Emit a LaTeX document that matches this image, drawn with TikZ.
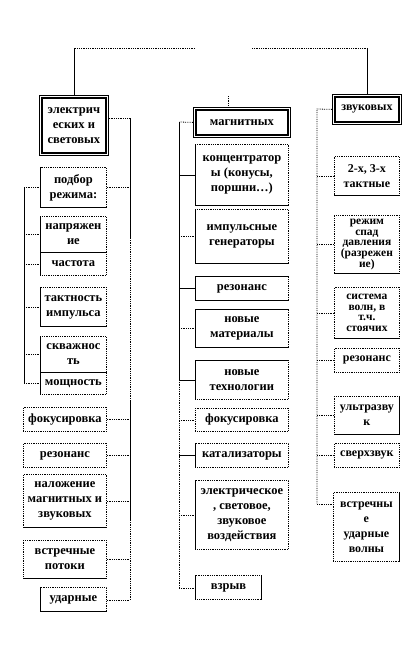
\documentclass[tikz,border=0pt]{standalone}
\usepackage{fontspec}
\setmainfont{Liberation Serif}
\usetikzlibrary{positioning, calc}
\tikzset{
    box/.style={draw, densely dotted, line width=0.8pt, inner sep=1pt, align=center,
        anchor=north west, font=\fontsize{12.5}{15}\selectfont\bfseries},
    narrowbox/.style={box, font=\fontsize{12}{15}\selectfont\bfseries},
    tightbox/.style={box, font=\fontsize{11.5}{10.8}\selectfont\bfseries},
    link/.style={densely dotted, line width=0.8pt},
    wire/.style={line width=0.8pt}
}
\begin{document}
\begin{tikzpicture}[x=1pt, y=-1pt]
    \useasboundingbox (0,0) rectangle (416,659);

    % heads
    \node[box, solid, minimum width=69pt, minimum height=60pt] (elec) at (39,95) {электрич\\еских и\\световых};
    \node[box, solid, minimum width=97pt, minimum height=30pt] (magn) at (193,107) {магнитных};
    \node[narrowbox, solid, minimum width=69pt, minimum height=30pt] (snd) at (332,94) {звуковых};

    % left column
    \node[box, minimum width=66pt, minimum height=40pt] (podbor) at (40,167) {подбор\\режима:};
    \node[box, minimum width=66pt, minimum height=36pt] (napr) at (40,216) {напряжен\\ие};
    \node[box, minimum width=66pt, minimum height=23pt] (chast) at (40,252) {частота};
    \node[box, minimum width=66pt, minimum height=39pt] (takt) at (40,287) {тактность\\импульса};
    \node[box, minimum width=66pt, minimum height=36pt] (skvazh) at (40,336) {скважнос\\ть};
    \node[box, minimum width=66pt, minimum height=22pt] (moshch) at (40,372) {мощность};
    \node[box, minimum width=83pt, minimum height=24pt] (lfokus) at (23,407) {фокусировка};
    \node[box, minimum width=83pt, minimum height=24pt] (lrezon) at (23,443) {резонанс};
    \node[box, minimum width=83pt, minimum height=53pt] (nalozh) at (23,474) {наложение\\магнитных и\\звуковых};
    \node[box, minimum width=83pt, minimum height=38pt] (lvstr) at (23,540) {встречные\\потоки};
    \node[box, minimum width=66pt, minimum height=24pt] (udar) at (40,587) {ударные};

    % middle column
    \node[box, minimum width=93pt, minimum height=61pt] (konc) at (195,144) {концентратор\\ы (конусы,\\поршни…)};
    \node[box, minimum width=93pt, minimum height=54pt] (impuls) at (195,209) {импульсные\\генераторы};
    \node[box, minimum width=93pt, minimum height=24pt] (mrezon) at (195,276) {резонанс};
    \node[box, minimum width=93pt, minimum height=38pt] (nmat) at (195,309) {новые\\материалы};
    \node[box, minimum width=93pt, minimum height=39pt] (ntech) at (195,360) {новые\\технологии};
    \node[box, minimum width=93pt, minimum height=23pt] (mfokus) at (195,408) {фокусировка};
    \node[box, minimum width=93pt, minimum height=24pt] (katal) at (195,443) {катализаторы};
    \node[box, minimum width=93pt, minimum height=69pt] (vozd) at (195,480) {электрическое\\, световое,\\звуковое\\воздействия};
    \node[box, minimum width=66pt, minimum height=24pt] (vzryv) at (195,575) {взрыв};

    % right column
    \node[narrowbox, minimum width=65pt, minimum height=39pt] (takty) at (334,156) {2-х, 3-х\\тактные};
    \node[tightbox, minimum width=65pt, minimum height=58pt] (spad) at (334,215) {режим\\спад\\давления\\(разрежен\\ие)};
    \node[tightbox, minimum width=65pt, minimum height=51pt] (volny) at (334,287) {система\\волн, в\\т.ч.\\стоячих};
    \node[narrowbox, minimum width=65pt, minimum height=24pt] (rrezon) at (334,348) {резонанс};
    \node[narrowbox, minimum width=65pt, minimum height=38pt] (ultra) at (334,396) {ультразву\\к};
    \node[narrowbox, minimum width=65pt, minimum height=24pt] (sverh) at (334,443) {сверхзвук};
    \node[narrowbox, minimum width=66pt, minimum height=69pt] (rvstr) at (333,492) {встречны\\е\\ударные\\волны};

    % double frames of the heads
    \foreach \n in {elec, magn, snd}
    {
        \draw[line width=1.6pt]
            ([shift={(3pt,-3pt)}]\n.north west) rectangle ([shift={(-3pt,3pt)}]\n.south east);
    }

    % solid sides
    \foreach \n in {podbor, napr, chast, takt, skvazh, moshch, udar,
                    konc, impuls, mrezon, nmat, ntech, katal, vozd, vzryv}
    {
        \draw[wire] (\n.north west) -- (\n.south west);
    }
    \foreach \n in {podbor, napr, takt, skvazh, nalozh, lvstr, udar,
                    konc, impuls, mrezon, nmat, takty, spad, volny, ultra}
    {
        \draw[wire] (\n.south west) -- (\n.south east);
    }
    \foreach \n in {mrezon, nmat, ntech}
    {
        \draw[wire] (\n.north west) -- (\n.north east);
    }
    \foreach \n in {vzryv, ultra, rvstr}
    {
        \draw[wire] (\n.north east) -- (\n.south east);
    }

    % trunks
    \coordinate (tl) at (195,48);
    \coordinate (tr) at (252,48);
    \coordinate (tm) at (228,96);
    \coordinate (lt1) at (130,118);
    \coordinate (lt2) at (130,238);
    \coordinate (lt3) at (130,400);
    \coordinate (lt4) at (130,520);
    \coordinate (lt5) at (130,600);
    \coordinate (bt) at (24,187);
    \coordinate (mt1) at (179,122);
    \coordinate (mt2) at (179,380);
    \coordinate (mt3) at (179,588);
    \coordinate (rt1) at (317,109);
    \coordinate (rt2) at (317,504);

    % top
    \draw[link] (tl) -- (tl -| elec.north);
    \draw[wire] (tl -| elec.north) -- (elec.north);
    \draw[link] (tr) -- (tr -| snd.north);
    \draw[wire] (tr -| snd.north) -- (snd.north);
    \draw[link] (tm) -- (tm |- magn.north);

    % left
    \draw[link] (elec.east |- lt1) -- (lt1);
    \draw[wire] (lt1) -- (lt2);
    \draw[link] (lt2) -- (lt3);
    \draw[wire] (lt3) -- (lt4);
    \draw[link] (lt4) -- (lt5);
    \foreach \n in {podbor, lfokus, lrezon, nalozh, lvstr}
    {
        \draw[link] (\n.east) -- (\n.east -| lt1);
    }
    \draw[link] (udar.east |- lt5) -- (lt5);

    % bracket of the modes
    \draw[wire] (podbor.west -| bt) -- (moshch.west -| bt);
    \foreach \n in {podbor, napr, chast, takt, skvazh, moshch}
    {
        \draw[link] (\n.west -| bt) -- (\n.west);
    }

    % middle
    \draw[link] (magn.west) -- (mt1);
    \draw[wire] (mt1) -- (mt2);
    \draw[link] (mt2) -- (mt3);
    \foreach \n/\st in {konc/wire, impuls/link, mrezon/wire, nmat/link, ntech/wire,
                        mfokus/link, katal/wire, vozd/link}
    {
        \draw[\st] (\n.west -| mt1) -- (\n.west);
    }
    \draw[link] (mt3) -- (vzryv.west |- mt3);

    % right
    \draw[link] (snd.west) -- (rt1) -- (rt2);
    \foreach \n in {takty, spad, volny, rrezon, ultra, sverh}
    {
        \draw[link] (\n.west -| rt1) -- (\n.west);
    }
    \draw[link] (rt2) -- (rvstr.west |- rt2);
\end{tikzpicture}
\end{document}
